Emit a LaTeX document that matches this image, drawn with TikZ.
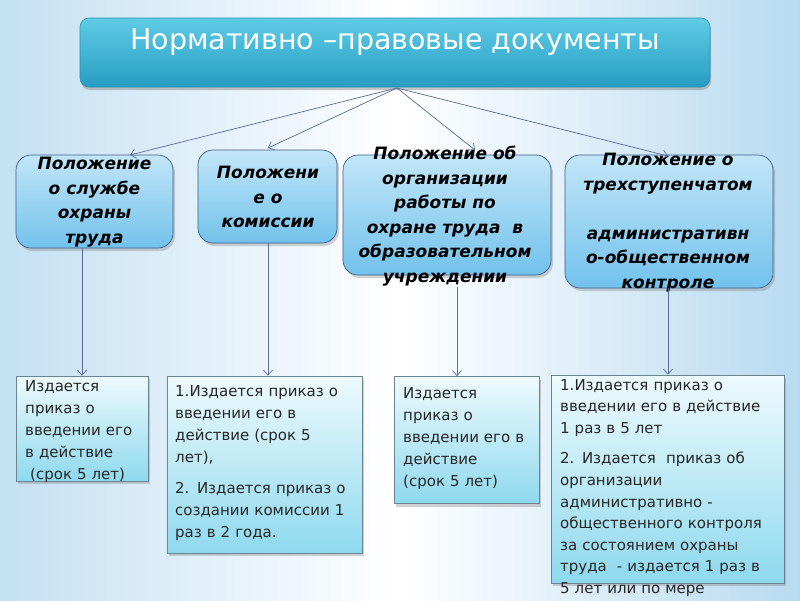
\documentclass[tikz,border=0pt]{standalone}
\usepackage{fontspec}
\setmainfont{DejaVu Sans}
\newfontfamily\djs{DejaVu Sans}
\usetikzlibrary{shadows,arrows.meta}
\definecolor{bgL}{HTML}{C4E0F3}
\definecolor{bgR}{HTML}{B8DAF0}
\definecolor{titTop}{HTML}{5FCCE6}
\definecolor{titBot}{HTML}{279DC2}
\definecolor{titBd}{HTML}{2D8FAE}
\definecolor{midTop}{HTML}{C2E6F8}
\definecolor{midBot}{HTML}{72C2EC}
\definecolor{midBd}{HTML}{3E5C86}
\definecolor{lowTop}{HTML}{EEFAFD}
\definecolor{lowBot}{HTML}{8ED9EE}
\definecolor{lowBd}{HTML}{6A8494}
\definecolor{arr}{HTML}{5C6C92}
\tikzset{
  titlebox/.style={draw=titBd, line width=0.6pt, rounded corners=9pt, top color=titTop, bottom color=titBot,
    drop shadow={shadow xshift=1pt, shadow yshift=-3pt, opacity=0.45}, inner sep=0pt},
  midbox/.style={draw=midBd, line width=0.7pt, rounded corners=15pt, top color=midTop, bottom color=midBot,
    drop shadow={shadow xshift=2pt, shadow yshift=-3pt, opacity=0.35}, inner sep=0pt},
  lowbox/.style={draw=lowBd, line width=0.7pt, top color=lowTop, bottom color=lowBot,
    drop shadow={shadow xshift=2pt, shadow yshift=-3pt, opacity=0.35}, inner sep=0pt},
  midtext/.style={font=\djs\bfseries\itshape\fontsize{17}{24.5}\selectfont, align=center, inner sep=0pt, text=black},
  lowtext/.style={font=\djs\fontsize{15}{22}\selectfont, align=left, anchor=north west, inner sep=0pt, text=black!85},
  conn/.style={draw=arr, line width=0.7pt, -{Straight Barb[length=5pt,width=9pt]}},
}
\begin{document}
\begin{tikzpicture}[x=1pt,y=-1pt]
\useasboundingbox (0,0) rectangle (800,600);
\shade[left color=bgL, right color=bgR, middle color=white] (0,0) rectangle (800,600);

% title
\node[titlebox, minimum width=630pt, minimum height=69pt] (title) at (395,52.5) {};
\node[font=\djs\fontsize{28.5}{32}\selectfont, text=white, inner sep=0pt] (titletext) at (395,42) {Нормативно –правовые документы};
\coordinate (hub) at (397,88);

% middle boxes
\node[midbox, minimum width=157pt, minimum height=93pt] (m1) at (94.5,201.5) {};
\node[midbox, minimum width=139pt, minimum height=93pt] (m2) at (267.5,196.5) {};
\node[midbox, minimum width=208pt, minimum height=120pt] (m3) at (447,215) {};
\node[midbox, minimum width=208pt, minimum height=133pt] (m4) at (669,221.5) {};

\node[midtext] (t1) at (94.5,202) {Положение\\о службе\\ охраны\\труда};
\node[midtext] (t2) at (268,197) {Положени\\е о\\комиссии};
\node[midtext] (t3) at (445,216) {Положение об\\организации\\работы по\\охране труда \ в\\образовательном\\учреждении};
\node[midtext] (t4) at (668,222.5) {Положение о\\трехступенчатом\\\mbox{}\\административн\\о-общественном\\контроле};

% bottom boxes
\node[lowbox, minimum width=132pt, minimum height=105pt] (b1) at (82,428.5) {};
\node[lowbox, minimum width=195pt, minimum height=177pt] (b2) at (264.5,464.5) {};
\node[lowbox, minimum width=145pt, minimum height=127pt] (b3) at (466.5,440) {};
\node[lowbox, minimum width=233pt, minimum height=208pt] (b4) at (667.5,479) {};

\node[lowtext, text width=125pt] (l1) at (25,380) {Издается\\приказ о\\введении его\\в действие\\\ (срок 5 лет)};
\node[lowtext, text width=185pt] (l2) at (175,385) {1.Издается приказ о\\введении его в\\действие (срок 5\\лет),\\[9pt]2. Издается приказ о\\создании комиссии 1\\раз в 2 года.};
\node[lowtext, text width=135pt] (l3) at (403,387) {Издается\\приказ о\\введении его в\\действие\\(срок 5 лет)};
\node[lowtext, text width=228pt, font=\djs\fontsize{15}{21.6}\selectfont] (l4) at (560,379) {1.Издается приказ о\\введении его в действие\\1 раз в 5 лет\\[9pt]2. Издается \ приказ об\\организации\\административно -\\общественного контроля\\за состоянием охраны\\труда \ - издается 1 раз в\\5 лет или по мере};

% connectors
\coordinate (e1) at (130,155);
\coordinate (e2) at (268,148);
\coordinate (e3) at (475,150);
\coordinate (e4) at (668,156);
\draw[conn] (hub) -- (e1);
\draw[conn] (hub) -- (e2);
\draw[conn] (hub) -- (e3);
\draw[conn] (hub) -- (e4);

\draw[conn] (m1.south -| 82,0) -- (b1.north -| 82,0);
\draw[conn] (m2.south -| 268,0) -- (b2.north -| 268,0);
\draw[conn] (m3.south -| 457,0) ++(0,12) -- (b3.north -| 457,0);
\draw[conn] (m4.south -| 668,0) -- (b4.north -| 668,0);
\end{tikzpicture}
\end{document}
